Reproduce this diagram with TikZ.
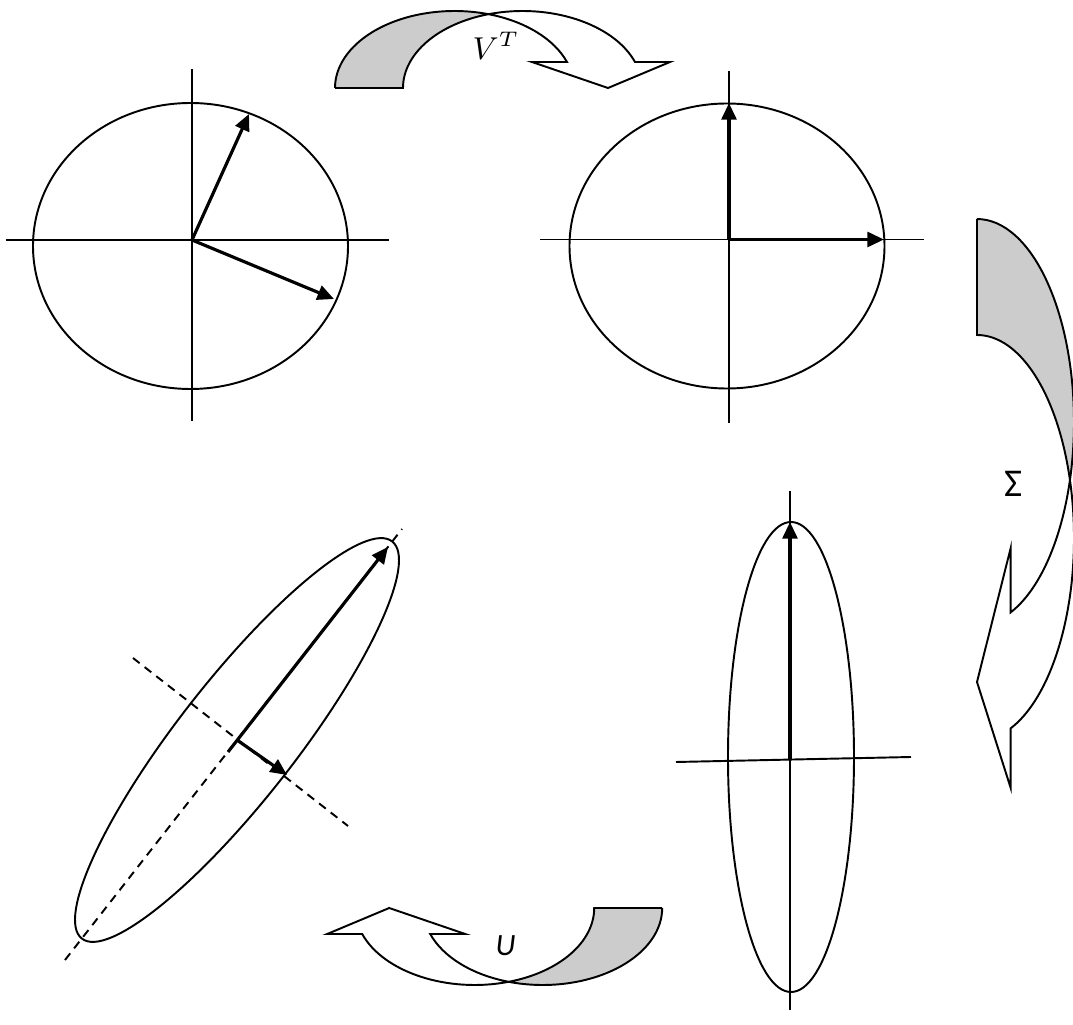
\documentclass[tikz,border=0pt]{standalone}
\usepackage{fontspec}
\newfontfamily\calibri{Carlito}
\usetikzlibrary{arrows.meta}
\definecolor{backgray}{gray}{0.8}

\begin{document}
\begin{tikzpicture}[line width=0.55pt,
  vec/.style={line width=0.9pt,-{Triangle[length=4.7pt,width=4.2pt]}},
  axisdash/.style={dash pattern=on 2.4pt off 1.8pt},
  mathlabel/.style={font=\fontsize{8.6}{10}\selectfont},
  textlabel/.style={font=\calibri\fontsize{8.8}{10}\selectfont}]

\useasboundingbox (0,0) rectangle (10.73,-10.25);

\draw (1.905,-2.46) ellipse [x radius=1.575, y radius=1.43];
\draw (0.06,-2.40) -- (3.89,-2.40);
\draw (1.92,-0.69) -- (1.92,-4.21);
\coordinate (o1) at (1.92,-2.40);
\coordinate (p1) at (2.49,-1.14);
\coordinate (q1) at (3.34,-2.99);
\draw[vec] (o1) -- (p1);
\draw[vec] (o1) -- (q1);

\draw (7.27,-2.46) ellipse [x radius=1.575, y radius=1.425];
\draw (5.40,-2.395) -- (9.24,-2.395);
\draw (7.29,-0.71) -- (7.29,-4.23);
\coordinate (o2) at (7.29,-2.395);
\coordinate (p2) at (7.29,-1.03);
\coordinate (q2) at (8.84,-2.395);
\draw[vec] (o2) -- (p2);
\draw[vec] (o2) -- (q2);

\draw (7.91,-7.57) ellipse [x radius=0.63, y radius=2.35];
\draw (7.90,-4.91) -- (7.90,-10.10);
\draw (6.76,-7.62) -- (9.11,-7.57);
\coordinate (o3) at (7.90,-7.60);
\coordinate (p3) at (7.90,-5.22);
\draw[vec] (o3) -- (p3);

\coordinate (c4) at (2.37,-7.40);
\draw[rotate around={52:(c4)}] (c4) ellipse [x radius=2.52, y radius=0.59];
\draw[axisdash] (0.65,-9.60) -- (4.02,-5.29);
\draw[axisdash] (1.33,-6.58) -- (3.48,-8.26);
\coordinate (o4) at (2.28,-7.52);
\coordinate (p4) at (3.88,-5.47);
\coordinate (q4) at (2.87,-7.75);
\draw[vec] (o4) -- (p4);
\draw[vec] (c4) -- (q4);

\begin{scope}[shift={(4.545,-0.88)}]
\filldraw[fill=backgray] (-1.195,0) -- (-0.515,0)
  arc[start angle=180, end angle=106.53, x radius=1.195, y radius=0.77]
  arc[start angle=73.47, end angle=180, x radius=1.195, y radius=0.77] -- cycle;
\filldraw[fill=white] (73.47:1.195 and 0.77)
  arc[start angle=73.47, end angle=19.74, x radius=1.195, y radius=0.77]
  -- (0.775,0.26) -- (1.535,0) -- (2.155,0.26) -- (1.805,0.26)
  arc[start angle=19.74, end angle=106.53, x radius=1.195, y radius=0.77] -- cycle;
\end{scope}

\begin{scope}[shift={(9.77,-4.22)}, rotate=-90]
\filldraw[fill=backgray] (-2.03,0) -- (-0.87,0)
  arc[start angle=180, end angle=106.60, x radius=2.03, y radius=0.97]
  arc[start angle=73.40, end angle=180, x radius=2.03, y radius=0.97] -- cycle;
\filldraw[fill=white] (73.40:2.03 and 0.97)
  arc[start angle=73.40, end angle=20.33, x radius=2.03, y radius=0.97]
  -- (1.26,0.337) -- (2.60,0) -- (3.66,0.337) -- (3.0636,0.337)
  arc[start angle=20.33, end angle=106.60, x radius=2.03, y radius=0.97] -- cycle;
\end{scope}

\begin{scope}[shift={(5.427,-9.08)}, rotate=180]
\filldraw[fill=backgray] (-1.195,0) -- (-0.515,0)
  arc[start angle=180, end angle=106.53, x radius=1.195, y radius=0.77]
  arc[start angle=73.47, end angle=180, x radius=1.195, y radius=0.77] -- cycle;
\filldraw[fill=white] (73.47:1.195 and 0.77)
  arc[start angle=73.47, end angle=19.74, x radius=1.195, y radius=0.77]
  -- (0.775,0.26) -- (1.535,0) -- (2.155,0.26) -- (1.805,0.26)
  arc[start angle=19.74, end angle=106.53, x radius=1.195, y radius=0.77] -- cycle;
\end{scope}

\node[mathlabel] (vt) at (4.96,-0.46) {$V^T$};
\node[textlabel, font=\calibri\fontsize{11.2}{13}\selectfont] (sigma) at (10.14,-4.84) {Σ};
\node[textlabel] (u) at (5.055,-9.46) {\itshape U};

\end{tikzpicture}
\end{document}
